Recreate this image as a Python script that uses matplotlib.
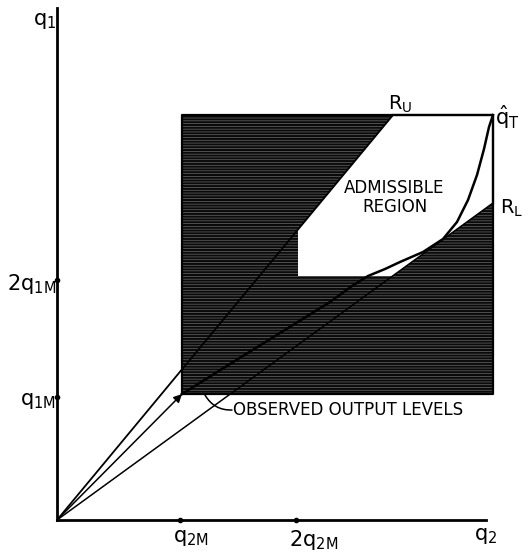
import numpy as np
import matplotlib.pyplot as plt
from matplotlib.patches import Polygon

plt.rcParams['font.family'] = 'DejaVu Sans'
plt.rcParams['mathtext.fontset'] = 'dejavusans'
plt.rcParams['hatch.linewidth'] = 0.5

# axis ticks (diagram units, origin at the corner of the axes)
x_ticks = [123, 239]
x_labels = [r'$\mathregular{q_{2M}}$', r'$\mathregular{2q_{2M}}$']
y_ticks = [123, 240]
y_labels = [r'$\mathregular{q_{1M}}$', r'$\mathregular{2q_{1M}}$']

# observed output levels and target point
q_obs = (125, 126)
q_target = (436, 405)

# rays from the origin
ru_end = (336, 405)
rl_end = (436, 317)

# corner of the admissible region
adm_left = 241
adm_bottom = 244

# expansion path from observed point to target
path_x = [125, 173, 223, 273, 295, 311, 328, 343, 366, 386, 400, 411, 420, 427, 432, 436]
path_y = [126, 156, 187, 218, 234, 244, 251, 258, 268, 281, 298, 320, 345, 371, 393, 405]

fig = plt.figure(figsize=(5.29, 5.57), dpi=100)
ax = fig.add_axes([0, 0, 1, 1])
ax.set_xlim(-57, 472)
ax.set_ylim(-37, 520)
ax.axis('off')

# shaded box
x0, y0 = q_obs
x1, y1 = q_target
box = Polygon([(x0, y0), (x1, y0), (x1, y1), (x0, y1)], closed=True,
              facecolor='#0a0a0a', edgecolor='#6a6a6a', hatch='------', linewidth=0)
ax.add_patch(box)
ax.plot([x0, x1, x1, x0, x0], [y0, y0, y1, y1, y0], color='black', lw=1.6)

# admissible (white) region
su = ru_end[1] / ru_end[0]
sl = rl_end[1] / rl_end[0]
adm = [(adm_left, su * adm_left), (ru_end[0], ru_end[1]), (x1, y1), (x1, rl_end[1]),
       (adm_bottom / sl, adm_bottom), (adm_left, adm_bottom)]
ax.add_patch(Polygon(adm, closed=True, facecolor='white', edgecolor='none'))
ax.plot([ru_end[0], x1, x1], [y1, y1, rl_end[1]], color='black', lw=1.6)

# axes
ax.plot([0, 429], [0, 0], color='black', lw=2)
ax.plot([0, 0], [0, 512], color='black', lw=2)
ax.plot(x_ticks, [0, 0], 'o', color='black', ms=3)
ax.plot([0, 0], y_ticks, 'o', color='black', ms=3)

# rays
ax.plot([0, ru_end[0]], [0, ru_end[1]], color='black', lw=1.3)
ax.plot([0, rl_end[0]], [0, rl_end[1]], color='black', lw=1.1)
ax.annotate('', xy=q_obs, xytext=(0, 0),
            arrowprops=dict(arrowstyle='-|>', color='black', lw=1.1, mutation_scale=12,
                            shrinkA=0, shrinkB=0))

# expansion path
ax.plot(path_x, path_y, color='black', lw=1.8, solid_joinstyle='round')

# labels
fs = 15
for t, lab in zip(x_ticks, x_labels):
    ax.text(t - 7, -8, lab, fontsize=fs, ha='left', va='top')
ax.text(417, -6, r'$\mathregular{q_2}$', fontsize=fs, ha='left', va='top')
for t, lab in zip(y_ticks, y_labels):
    ax.text(-1, t - 4, lab, fontsize=fs, ha='right', va='center')
ax.text(-24, 499, r'$\mathregular{q_1}$', fontsize=fs, ha='left', va='center')

ax.text(331, 416, r'$\mathregular{R_U}$', fontsize=14, ha='left', va='center')
ax.text(443, 312, r'$\mathregular{R_L}$', fontsize=14, ha='left', va='center')
ax.text(438, 403, r'$\hat{\mathregular{q}}_\mathregular{T}$', fontsize=fs, ha='left', va='center')

ax.text(337, 332, 'ADMISSIBLE', fontsize=12, ha='center', va='center')
ax.text(338, 313, 'REGION', fontsize=12, ha='center', va='center')

ax.text(176, 110, 'OBSERVED OUTPUT LEVELS', fontsize=12, ha='left', va='center')
ax.annotate('', xy=(148, 125), xytext=(175, 110),
            arrowprops=dict(arrowstyle='-', color='black', lw=1.1,
                            connectionstyle='arc3,rad=-0.3', shrinkA=0, shrinkB=0))

fig.savefig('out.png', dpi=100)
